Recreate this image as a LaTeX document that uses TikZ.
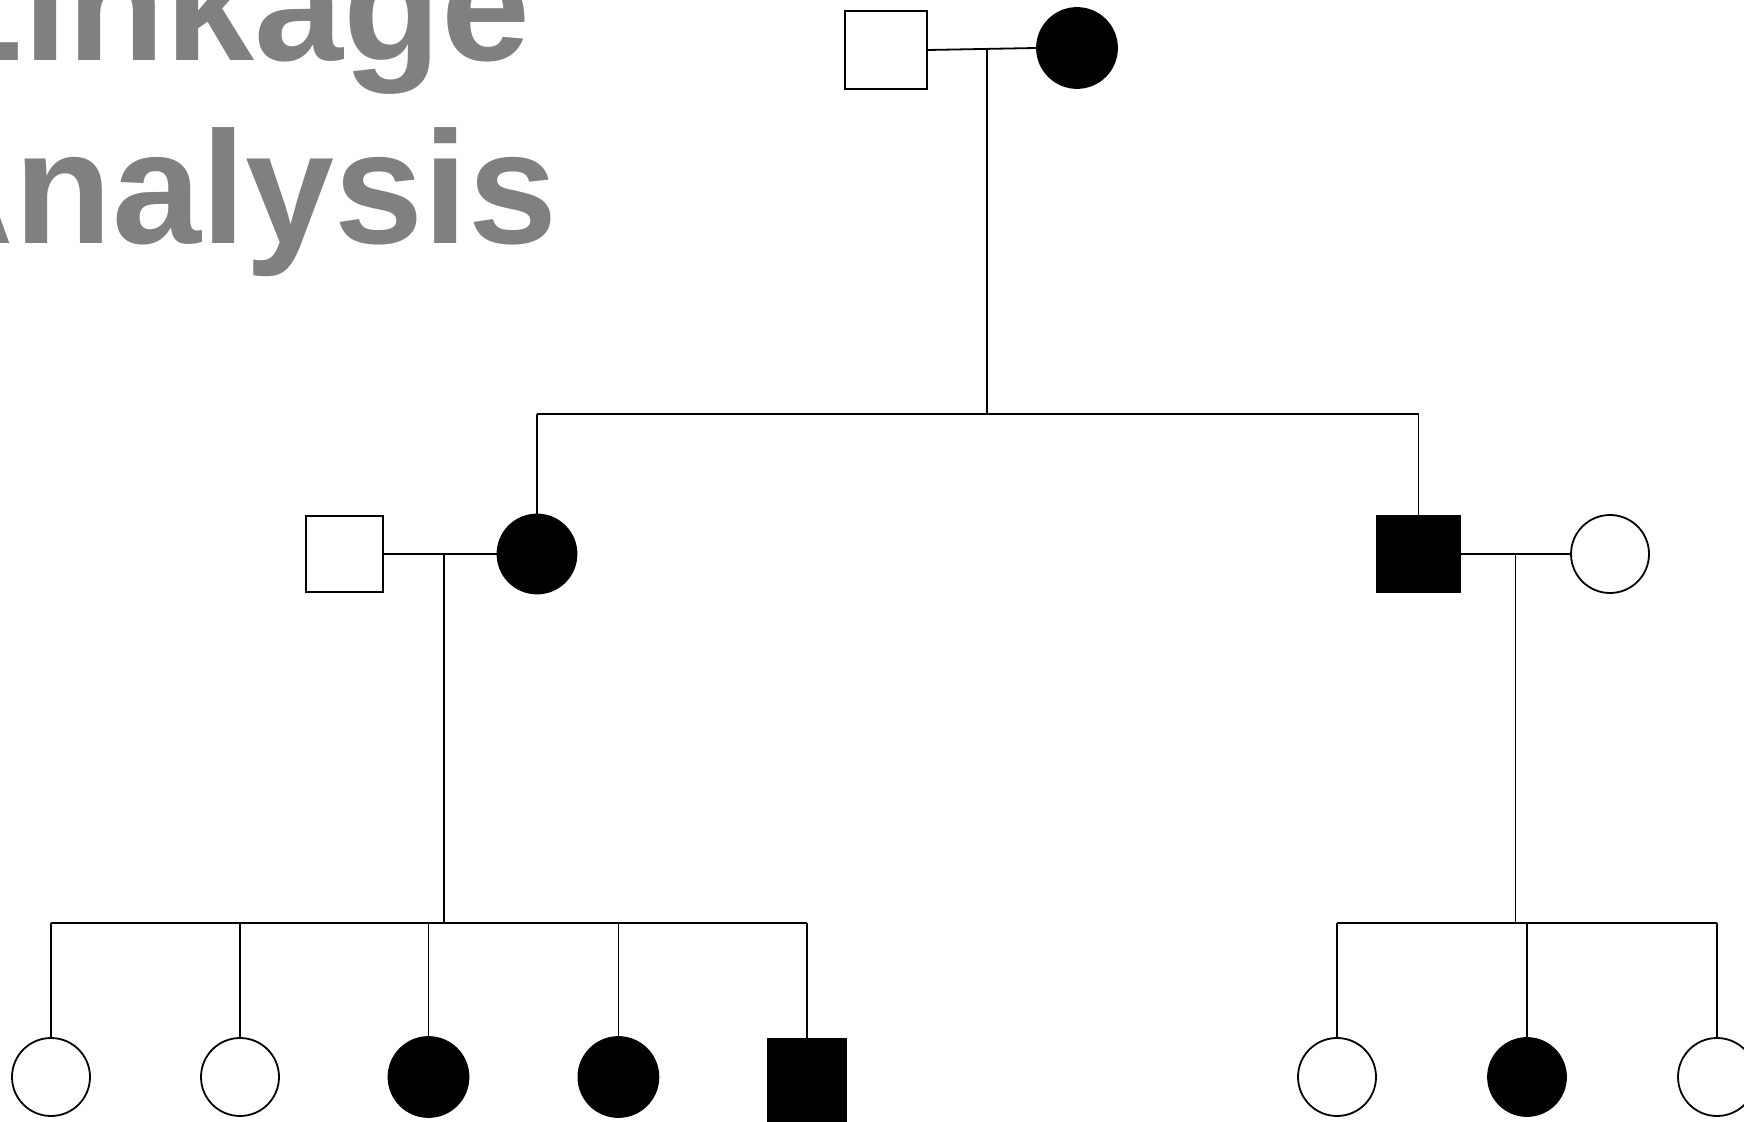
\documentclass[tikz,border=0pt]{standalone}
\usepackage{fontspec}
\setmainfont{Liberation Sans}
\definecolor{titlegray}{RGB}{128,128,128}
\begin{document}
\begin{tikzpicture}[x=0.5pt,y=-0.5pt,
  line width=0.9pt,
  male/.style={draw=black,rectangle,minimum width=41pt,minimum height=39pt,inner sep=0pt,fill=white},
  female/.style={draw=black,circle,minimum size=39pt,inner sep=0pt,fill=white},
  aff/.style={fill=black},
  titletext/.style={anchor=base,inner sep=0pt,text=titlegray,font=\fontsize{80pt}{92pt}\selectfont\bfseries}
]
\useasboundingbox (0,0) rectangle (1744,1122);
% title
\node[titletext] (title1) at (228,61) {Linkage};
\node[titletext] (title2) at (228,243.7) {Analysis};
% generation I
\node[male] (I1) at (886,50) {};
\node[female,aff,minimum size=40pt] (I2) at (1077,48) {};
% generation II
\node[male,minimum width=38.5pt,minimum height=38pt] (II1) at (344.5,554) {};
\node[female,aff,minimum size=39.5pt] (II2) at (537,554) {};
\node[male,aff,minimum width=41.5pt,minimum height=38.5pt] (II3) at (1418.5,554) {};
\node[female] (II4) at (1610,554) {};
% generation III left
\node[female] (III1) at (51,1077) {};
\node[female] (III2) at (240,1077) {};
\node[female,aff,minimum size=40pt] (III3) at (428.5,1077) {};
\node[female,aff,minimum size=40pt] (III4) at (618.4,1077) {};
\node[male,aff,minimum width=39pt,minimum height=44pt,anchor=north] (III5) at (806.7,1038) {};
% generation III right
\node[female] (III6) at (1337,1077) {};
\node[female,aff] (III7) at (1527,1077) {};
\node[female] (III8) at (1717,1077) {};
% coordinates
\coordinate (m1) at (986.7,48);
\coordinate (s1) at (986.7,414);
\coordinate (s1L) at (537,414);
\coordinate (s1R) at (1418.5,414);
\coordinate (m2) at (444,554);
\coordinate (s2) at (444,923);
\coordinate (s2L) at (51,923);
\coordinate (s2R) at (806.7,923);
\coordinate (m3) at (1515.5,554);
\coordinate (s3) at (1515.5,923);
\coordinate (s3L) at (1337,923);
\coordinate (s3R) at (1717,923);
% connectors
\draw (I1.east) -- (I2.west);
\draw (m1) -- (s1);
\draw (s1L) -- (s1R);
\draw (s1L) -- (II2.north);
\draw (s1R) -- (II3.north);
\draw (II1.east) -- (II2.west);
\draw (II3.east) -- (II4.west);
\draw (m2) -- (s2);
\draw (s2L) -- (s2R);
\draw (m3) -- (s3);
\draw (s3L) -- (s3R);
\draw (s2L) -- (III1.north);
\draw (240,923) -- (III2.north);
\draw (428.5,923) -- (III3.north);
\draw (618.4,923) -- (III4.north);
\draw (s2R) -- (III5.north);
\draw (s3L) -- (III6.north);
\draw (1527,923) -- (III7.north);
\draw (s3R) -- (III8.north);
\end{tikzpicture}
\end{document}
